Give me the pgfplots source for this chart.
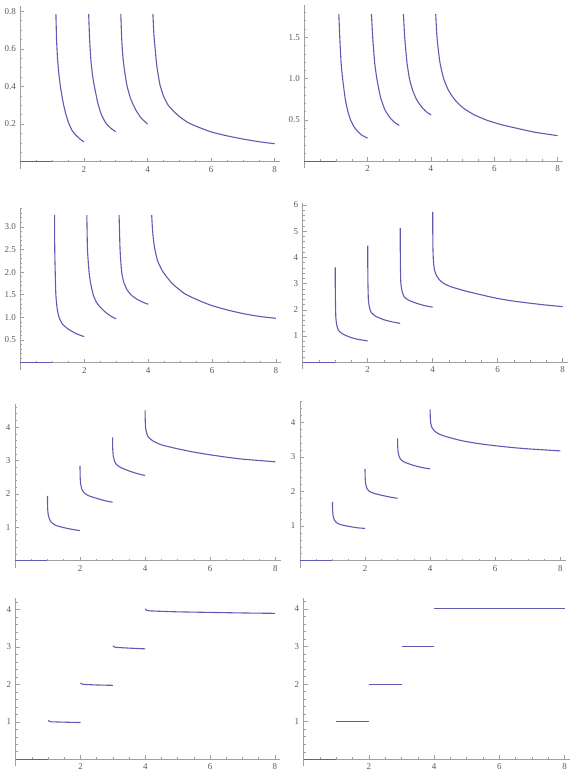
\documentclass[border=0pt]{standalone}
\usepackage{fontspec}
\setmainfont{Liberation Serif}
\usepackage{pgfplots}
\pgfplotsset{compat=1.18}
\definecolor{curve}{RGB}{94,92,178}
\definecolor{axgray}{RGB}{160,160,160}
\definecolor{lblgray}{RGB}{90,90,90}
\pgfplotsset{
  mma/.style={
    anchor=origin,
    axis lines=middle,
    axis line style={-, draw=axgray, line width=0.6pt},
    xmin=0, xmax=8.17,
    xtick={2,4,6,8},
    xticklabels={2,4,6,8},
    minor xtick={0.5,1,...,8},
    tick align=inside,
    major tick length=4pt,
    minor tick length=2pt,
    tick style={draw=axgray, line width=0.5pt},
    tick label style={font=\fontsize{9}{10}\selectfont, text=lblgray},
    xticklabel style={yshift=-1pt},
    yticklabel style={xshift=-1pt},
    clip=false,
    every axis plot post/.append style={draw=curve, mark=none, line width=1.1pt, smooth, tension=0.35},
  }
}
\begin{document}
\begin{tikzpicture}
\useasboundingbox (0,0) rectangle (582pt,781pt);

% row 1 left
\begin{axis}[mma, at={(20.3pt,619.4pt)}, x=31.8pt, y=188pt,
  ymin=-0.037, ymax=0.83,
  ytick={0.2,0.4,0.6,0.8}, yticklabels={0.2,0.4,0.6,0.8},
  minor ytick={0.05,0.1,...,0.8}]
\addplot coordinates {(0,0) (1,0)};
\addplot coordinates {(1.12,0.785) (1.14,0.65) (1.17,0.55) (1.21,0.47) (1.27,0.39) (1.34,0.32) (1.42,0.26) (1.51,0.21) (1.62,0.168) (1.74,0.142) (1.87,0.121) (2.0,0.105)};
\addplot coordinates {(2.15,0.785) (2.18,0.65) (2.22,0.54) (2.27,0.46) (2.33,0.4) (2.44,0.31) (2.55,0.25) (2.69,0.205) (2.85,0.177) (3.0,0.159)};
\addplot coordinates {(3.16,0.785) (3.19,0.65) (3.23,0.55) (3.29,0.47) (3.36,0.4) (3.48,0.33) (3.63,0.275) (3.8,0.232) (4.0,0.2)};
\addplot coordinates {(4.17,0.785) (4.2,0.68) (4.24,0.6) (4.3,0.5) (4.39,0.41) (4.5,0.35) (4.65,0.3) (4.85,0.263) (5.0,0.24) (5.25,0.21) (5.5,0.19) (6.0,0.158) (6.5,0.137) (7.0,0.12) (7.5,0.106) (8.0,0.095)};
\end{axis}

% row 1 right
\begin{axis}[mma, at={(304.3pt,619.7pt)}, x=31.67pt, y=82.7pt,
  ymin=-0.085, ymax=1.89,
  ytick={0.5,1,1.5}, yticklabels={0.5,1.0,1.5},
  minor ytick={0.1,0.2,...,1.8}]
\addplot coordinates {(0,0) (1,0)};
\addplot coordinates {(1.09,1.78) (1.12,1.5) (1.16,1.2) (1.21,1.0) (1.29,0.76) (1.37,0.61) (1.46,0.5) (1.6,0.4) (1.8,0.32) (2.0,0.28)};
\addplot coordinates {(2.12,1.78) (2.16,1.5) (2.22,1.2) (2.29,1.0) (2.41,0.77) (2.55,0.62) (2.72,0.52) (2.87,0.465) (3.0,0.435)};
\addplot coordinates {(3.13,1.78) (3.17,1.5) (3.24,1.2) (3.32,1.0) (3.42,0.86) (3.54,0.75) (3.7,0.66) (3.85,0.6) (4.0,0.56)};
\addplot coordinates {(4.15,1.78) (4.19,1.5) (4.28,1.2) (4.4,1.0) (4.55,0.86) (4.74,0.75) (5.0,0.65) (5.35,0.565) (5.74,0.5) (6.2,0.445) (6.7,0.4) (7.3,0.35) (8.0,0.31)};
\end{axis}

% row 2 left
\begin{axis}[mma, at={(20.4pt,418.3pt)}, x=31.94pt, y=45.3pt,
  ymin=-0.155, ymax=3.42,
  ytick={0.5,1,1.5,2,2.5,3}, yticklabels={0.5,1.0,1.5,2.0,2.5,3.0},
  minor ytick={0.1,0.2,...,3.4}]
\addplot coordinates {(0,0) (1,0)};
\addplot coordinates {(1.07,3.26) (1.075,2.5) (1.09,2.0) (1.11,1.5) (1.15,1.2) (1.21,1.0) (1.32,0.85) (1.5,0.74) (1.75,0.64) (2.0,0.575)};
\addplot coordinates {(2.08,3.26) (2.1,2.5) (2.15,2.0) (2.2,1.75) (2.28,1.5) (2.37,1.35) (2.47,1.25) (2.67,1.11) (2.85,1.02) (3.0,0.965)};
\addplot coordinates {(3.09,3.26) (3.12,2.5) (3.17,2.0) (3.24,1.77) (3.34,1.61) (3.46,1.5) (3.65,1.4) (3.85,1.33) (4.0,1.29)};
\addplot coordinates {(4.11,3.26) (4.13,3.0) (4.16,2.75) (4.21,2.5) (4.3,2.24) (4.47,2.0) (4.75,1.75) (5.15,1.52) (5.6,1.37) (6.0,1.26) (6.5,1.16) (7.0,1.08) (7.5,1.02) (8.0,0.98)};
\end{axis}

% row 2 right
\begin{axis}[mma, at={(302.7pt,418.8pt)}, x=32.5pt, y=26.2pt,
  ymin=-0.27, ymax=6.06,
  ytick={1,2,3,4,5,6}, yticklabels={1,2,3,4,5,6},
  minor ytick={0.2,0.4,...,6}]
\addplot coordinates {(0,0) (1,0)};
\addplot coordinates {(1.0,3.62) (1.005,2.5) (1.02,1.7) (1.05,1.4) (1.1,1.22) (1.2,1.1) (1.4,0.98) (1.6,0.9) (1.8,0.85) (2.0,0.81)};
\addplot coordinates {(2.0,4.45) (2.005,3.2) (2.02,2.4) (2.06,2.05) (2.12,1.88) (2.25,1.75) (2.5,1.62) (2.75,1.54) (3.0,1.48)};
\addplot coordinates {(3.0,5.13) (3.005,3.8) (3.02,3.0) (3.06,2.7) (3.12,2.5) (3.25,2.37) (3.5,2.25) (3.75,2.16) (4.0,2.1)};
\addplot coordinates {(4.0,5.74) (4.005,4.5) (4.02,3.9) (4.05,3.55) (4.1,3.35) (4.2,3.15) (4.35,3.0) (4.56,2.88) (5.0,2.72) (5.5,2.57) (6.0,2.43) (6.5,2.33) (7.0,2.25) (7.5,2.18) (8.0,2.12)};
\end{axis}

% row 3 left
\begin{axis}[mma, at={(14.9pt,220.3pt)}, x=32.55pt, y=33.4pt,
  ymin=-0.21, ymax=4.68,
  ytick={1,2,3,4}, yticklabels={1,2,3,4},
  minor ytick={0.2,0.4,...,4.6}]
\addplot coordinates {(0,0) (1,0)};
\addplot coordinates {(1.0,1.94) (1.005,1.6) (1.02,1.4) (1.06,1.25) (1.12,1.15) (1.25,1.06) (1.5,0.99) (1.75,0.94) (2.0,0.9)};
\addplot coordinates {(2.0,2.84) (2.005,2.5) (2.02,2.3) (2.06,2.13) (2.12,2.04) (2.25,1.95) (2.5,1.87) (2.75,1.8) (3.0,1.75)};
\addplot coordinates {(3.0,3.69) (3.005,3.35) (3.02,3.15) (3.06,2.98) (3.12,2.88) (3.25,2.79) (3.5,2.69) (3.75,2.61) (4.0,2.55)};
\addplot coordinates {(4.0,4.5) (4.005,4.15) (4.02,3.95) (4.06,3.78) (4.12,3.68) (4.25,3.58) (4.5,3.47) (5.0,3.35) (5.5,3.25) (6.0,3.17) (6.5,3.1) (7.0,3.04) (7.5,3.0) (8.0,2.96)};
\end{axis}

% row 3 right
\begin{axis}[mma, at={(299.9pt,220.4pt)}, x=32.55pt, y=34.6pt,
  ymin=-0.2, ymax=4.61,
  ytick={1,2,3,4}, yticklabels={1,2,3,4},
  minor ytick={0.2,0.4,...,4.6}]
\addplot coordinates {(0,0) (1,0)};
\addplot coordinates {(1.0,1.7) (1.005,1.45) (1.02,1.3) (1.06,1.17) (1.12,1.1) (1.25,1.04) (1.5,0.99) (1.75,0.95) (2.0,0.93)};
\addplot coordinates {(2.0,2.65) (2.005,2.4) (2.02,2.22) (2.06,2.08) (2.12,2.01) (2.25,1.95) (2.5,1.89) (2.75,1.84) (3.0,1.8)};
\addplot coordinates {(3.0,3.53) (3.005,3.3) (3.02,3.12) (3.06,2.98) (3.12,2.9) (3.25,2.83) (3.5,2.75) (3.75,2.69) (4.0,2.65)};
\addplot coordinates {(4.0,4.37) (4.005,4.15) (4.02,3.97) (4.06,3.84) (4.12,3.76) (4.25,3.67) (4.5,3.58) (5.0,3.46) (5.5,3.38) (6.0,3.32) (6.5,3.27) (7.0,3.23) (7.5,3.2) (8.0,3.17)};
\end{axis}

% row 4 left
\begin{axis}[mma, at={(15.7pt,21.8pt)}, x=32.4pt, y=37.4pt,
  ymin=-0.19, ymax=4.3,
  ytick={1,2,3,4}, yticklabels={1,2,3,4},
  minor ytick={0.2,0.4,...,4.2}]
\addplot coordinates {(0,0) (1,0)};
\addplot coordinates {(1.0,1.04) (1.03,1.015) (1.1,1.0) (1.5,0.99) (2.0,0.98)};
\addplot coordinates {(2.0,2.04) (2.03,2.015) (2.1,2.0) (2.5,1.985) (3.0,1.975)};
\addplot coordinates {(3.0,3.03) (3.03,3.005) (3.1,2.99) (3.5,2.97) (4.0,2.95)};
\addplot coordinates {(4.0,4.02) (4.04,3.985) (4.15,3.965) (5.0,3.94) (6.0,3.925) (7.0,3.91) (8.0,3.9)};
\end{axis}

% row 4 right
\begin{axis}[mma, at={(303.7pt,21.7pt)}, x=32.6pt, y=37.6pt,
  ymin=-0.19, ymax=4.3,
  ytick={1,2,3,4}, yticklabels={1,2,3,4},
  minor ytick={0.2,0.4,...,4.2}]
\addplot coordinates {(0,0) (1,0)};
\addplot coordinates {(1,1) (2,1)};
\addplot coordinates {(2,2) (3,2)};
\addplot coordinates {(3,3) (4,3)};
\addplot coordinates {(4,4) (8,4)};
\end{axis}
\end{tikzpicture}
\end{document}
